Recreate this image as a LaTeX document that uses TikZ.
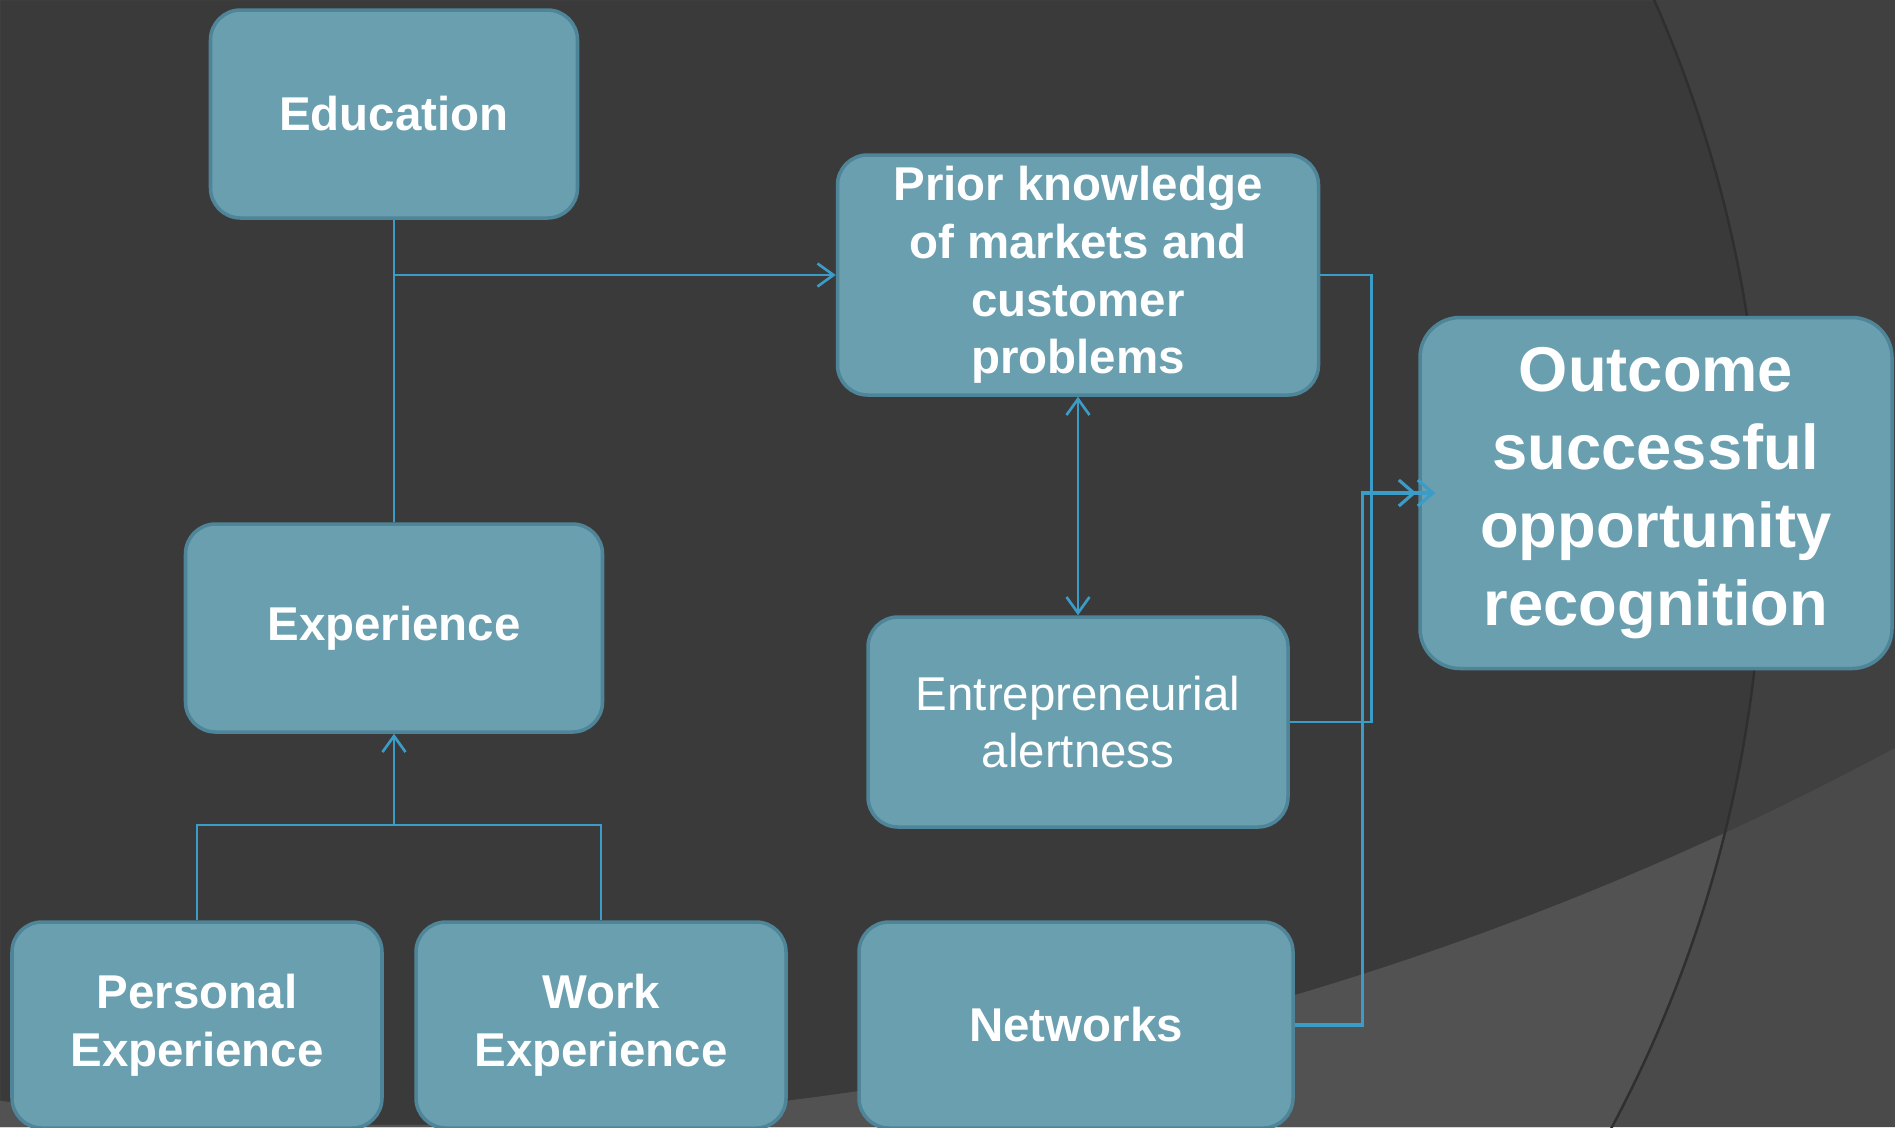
\documentclass[tikz,border=0pt]{standalone}
\usepackage{fontspec}
\setmainfont{Liberation Sans}
\usepackage{xcolor}
\usepackage{tikz}
\usetikzlibrary{positioning,arrows.meta,calc}
\definecolor{bgdark}{HTML}{3A3A3A}
\definecolor{bgout}{HTML}{404040}
\definecolor{bandin}{HTML}{525252}
\definecolor{bandout}{HTML}{4A4A4A}
\definecolor{arcline}{HTML}{2F2F2F}
\definecolor{boxfill}{HTML}{6A9FB0}
\definecolor{boxedge}{HTML}{4F8598}
\definecolor{wire}{HTML}{3C9CC8}
\tikzset{
  blk/.style    ={draw=boxedge, line width=1pt, rectangle, rounded corners=3mm, align=center, fill=boxfill, text=white, inner sep=0pt, font=\fontsize{13.5}{16.4}\selectfont\bfseries},
  plainblk/.style={blk, font=\fontsize{13.5}{16.4}\selectfont},
  bigblk/.style ={blk, rounded corners=4mm, font=\fontsize{18}{22.2}\selectfont\bfseries},
  wln/.style    ={draw=wire, line width=0.75pt},
  arr/.style    ={wln, -{Straight Barb[length=1.6mm, width=2.3mm]}},
  arrtwo/.style ={wln, {Straight Barb[length=1.6mm, width=2.3mm]}-{Straight Barb[length=1.6mm, width=2.3mm]}},
  arrdbl/.style ={wln, line width=0.9pt, -{Straight Barb[length=1.5mm, width=2.6mm] Straight Barb[length=1.5mm, width=2.6mm]}},
}

\begin{document}
\begin{tikzpicture}[x=0.1mm, y=-0.1mm]
  \useasboundingbox (0,0) rectangle (1895,1127);

  % backdrop: big circle on the left, lighter band along the bottom
  \begin{scope}
    \clip (0,0) rectangle (1895,1127);
    \fill[bgout] (0,0) rectangle (1895,1127);
    \begin{scope}
      \clip (470,520) circle[radius=129.3mm];
      \fill[bgdark] (0,0) rectangle (1895,1127);
    \end{scope}
    \fill[bandout, even odd rule] (0,0) rectangle (1895,1127) (393,-2050) circle[radius=317.5mm];
    \begin{scope}
      \clip (470,520) circle[radius=129.3mm];
      \fill[bandin, even odd rule] (0,0) rectangle (1895,1127) (393,-2050) circle[radius=317.5mm];
    \end{scope}
    \draw[arcline, line width=0.7pt] (470,520) circle[radius=129.3mm];
  \end{scope}

  \node[blk, minimum width=36.7mm, minimum height=20.8mm] (edu)   at (394,114)  {Education};
  \node[blk, minimum width=48.1mm, minimum height=24mm]   (prior) at (1078,275) {Prior knowledge\\of markets and\\customer\\problems};
  \node[bigblk, minimum width=47.2mm, minimum height=35.1mm] (outc) at (1656,493) {Outcome\\successful\\opportunity\\recognition};
  \node[blk, minimum width=41.7mm, minimum height=20.8mm] (exper) at (394,628)  {Experience};
  \node[plainblk, minimum width=42mm, minimum height=21mm] (alert) at (1078,722) {Entrepreneurial\\alertness};
  \node[blk, minimum width=37mm, minimum height=20.6mm]   (pers)  at (197,1025) {Personal\\Experience};
  \node[blk, minimum width=37mm, minimum height=20.6mm]   (work)  at (601,1025) {Work\\Experience};
  \node[blk, minimum width=43.4mm, minimum height=20.6mm] (netw)  at (1076,1025) {Networks};

  % left spine: education down to experience, branch into prior knowledge
  \draw[wln] (edu.south) -- (exper.north);
  \draw[arr] (edu.south |- prior.west) -- (prior.west);

  % the two kinds of experience feed experience
  \coordinate (join) at (394,825);
  \draw[wln] (pers.north) |- (join) -| (work.north);
  \draw[arr] (join) -- (exper.south);

  % prior knowledge <-> alertness
  \draw[arrtwo] (prior.south) -- (alert.north);

  % right side brackets
  \draw[wln] (prior.east) -- ++(51,0) |- (alert.east);
  \draw[arrdbl] (netw.east) -- ++(68,0) |- ([xshift=1.7mm]outc.west);
\end{tikzpicture}
\end{document}
